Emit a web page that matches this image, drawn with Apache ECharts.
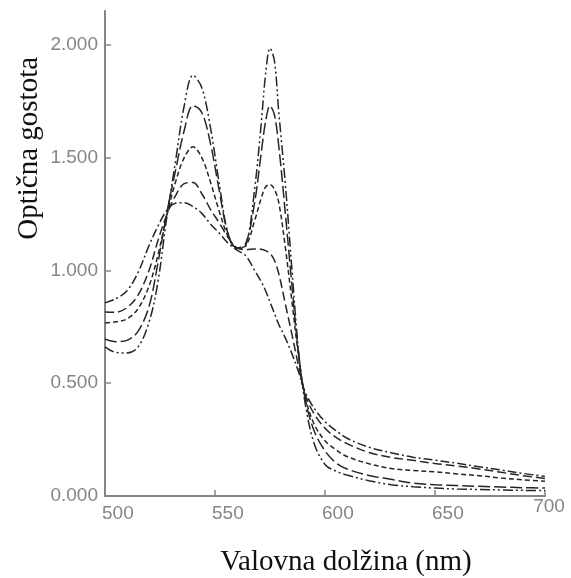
<!DOCTYPE html>
<html>
<head>
<meta charset="utf-8">
<script src="https://cdn.jsdelivr.net/npm/echarts@6/dist/echarts.min.js"></script>
<style>
  html, body { margin: 0; padding: 0; background: #fff; }
  #chart { width: 571px; height: 578px; }
</style>
</head>
<body>
<div id="chart"></div>
<script>
// Wavelength grid (nm) shared by every spectrum
const wavelengths = [500,505,510,515,520,524,528,532,536,540,544,548,552,556,560,564,568,571,573,575,577,579,582,585,588,591,595,600,605,610,620,630,640,650,660,670,680,690,700];

// Optical density of the five spectra, from the strongest double peak to the flattest
const spectrumA = [0.661,0.636,0.634,0.660,0.770,0.945,1.23,1.48,1.73,1.865,1.81,1.63,1.38,1.16,1.095,1.11,1.36,1.65,1.87,1.985,1.93,1.70,1.38,1.00,0.64,0.41,0.235,0.14,0.11,0.093,0.068,0.050,0.041,0.035,0.031,0.029,0.027,0.025,0.024];
const spectrumB = [0.696,0.684,0.690,0.730,0.840,1.03,1.25,1.44,1.62,1.73,1.70,1.56,1.35,1.16,1.10,1.12,1.30,1.52,1.66,1.73,1.69,1.55,1.25,0.93,0.63,0.43,0.29,0.20,0.147,0.12,0.091,0.074,0.057,0.050,0.046,0.043,0.040,0.037,0.035];
const spectrumC = [0.767,0.772,0.785,0.830,0.930,1.065,1.24,1.39,1.50,1.548,1.50,1.39,1.26,1.15,1.10,1.11,1.22,1.32,1.37,1.38,1.36,1.30,1.10,0.86,0.62,0.44,0.32,0.245,0.205,0.175,0.143,0.122,0.113,0.107,0.098,0.090,0.080,0.072,0.065];
const spectrumD = [0.816,0.815,0.835,0.890,1.00,1.13,1.245,1.33,1.385,1.39,1.34,1.27,1.21,1.145,1.10,1.092,1.095,1.094,1.088,1.075,1.045,0.985,0.85,0.715,0.575,0.45,0.365,0.30,0.26,0.232,0.193,0.171,0.158,0.144,0.133,0.120,0.105,0.090,0.078];
const spectrumE = [0.856,0.875,0.910,0.990,1.11,1.195,1.265,1.298,1.30,1.283,1.253,1.205,1.165,1.12,1.09,1.065,1.00,0.95,0.91,0.86,0.81,0.76,0.70,0.63,0.55,0.46,0.39,0.33,0.29,0.256,0.216,0.192,0.172,0.159,0.145,0.130,0.115,0.100,0.087];

// Axis ticks
const xTicks = [500, 550, 600, 650, 700];
const yTicks = [0, 0.5, 1.0, 1.5, 2.0];

const spectra = [
  { data: spectrumA, dash: [10, 3, 2, 3, 2, 3] },
  { data: spectrumB, dash: [12, 4] },
  { data: spectrumC, dash: [5, 3] },
  { data: spectrumD, dash: [9, 4] },
  { data: spectrumE, dash: [9, 3, 2, 3] }
];

const axisGray = '#858585';
const labelFont = 'Liberation Sans, Arial, sans-serif';
const titleFont = 'Liberation Serif, Times New Roman, serif';

const chart = echarts.init(document.getElementById('chart'), null, { renderer: 'canvas' });

const option = {
  animation: false,
  backgroundColor: '#ffffff',
  grid: { left: 105, right: 26, top: 11, bottom: 82, outerBoundsMode: 'none' },
  xAxis: {
    type: 'value',
    min: 500,
    max: 700,
    interval: 50,
    splitLine: { show: false },
    axisLine: { show: true, lineStyle: { color: axisGray, width: 2 } },
    axisTick: { show: true, inside: true, length: 6, lineStyle: { color: axisGray, width: 1.5 } },
    axisLabel: {
      show: true,
      margin: 8,
      color: axisGray,
      fontSize: 19,
      fontFamily: labelFont,
      align: 'left',
      padding: [0, 0, 0, -3],
      formatter: v => (v === 700 ? '' : String(v))
    }
  },
  yAxis: {
    type: 'value',
    min: 0,
    max: 2.15,
    splitLine: { show: false },
    axisLine: { show: true, lineStyle: { color: axisGray, width: 2 } },
    axisTick: { show: true, inside: true, length: 6, customValues: yTicks, lineStyle: { color: axisGray, width: 1.5 } },
    axisLabel: {
      show: true,
      margin: 7,
      color: axisGray,
      fontSize: 19,
      fontFamily: labelFont,
      customValues: yTicks,
      formatter: v => v.toFixed(3)
    }
  },
  series: spectra.map(s => ({
    type: 'line',
    data: wavelengths.map((w, i) => [w, s.data[i]]),
    smooth: 0.35,
    symbol: 'none',
    lineStyle: { color: '#262626', width: 1.5, type: s.dash }
  })),
  graphic: []
};

chart.setOption(option);

// The last x tick label sits higher and is centred on its tick
const p700 = chart.convertToPixel({ xAxisIndex: 0, yAxisIndex: 0 }, [xTicks[xTicks.length - 1], 0]);
const pMidX = chart.convertToPixel({ xAxisIndex: 0, yAxisIndex: 0 }, [600, 0]);
const pTopY = chart.convertToPixel({ xAxisIndex: 0, yAxisIndex: 0 }, [500, 1.55]);

chart.setOption({
  graphic: [
    {
      type: 'text',
      x: p700[0] + 4,
      y: p700[1] + 1,
      style: {
        text: String(xTicks[xTicks.length - 1]),
        fill: axisGray,
        font: '19px ' + labelFont,
        textAlign: 'center',
        textVerticalAlign: 'top'
      }
    },
    {
      type: 'text',
      x: pMidX[0] + 21,
      y: 562,
      style: {
        text: 'Valovna dolžina (nm)',
        fill: '#111111',
        font: '29px ' + titleFont,
        textAlign: 'center',
        textVerticalAlign: 'middle'
      }
    },
    {
      type: 'text',
      x: 29,
      y: pTopY[1] + 2,
      rotation: Math.PI / 2,
      style: {
        text: 'Optična gostota',
        fill: '#111111',
        font: '29px ' + titleFont,
        textAlign: 'center',
        textVerticalAlign: 'middle'
      }
    }
  ]
});
</script>
</body>
</html>
